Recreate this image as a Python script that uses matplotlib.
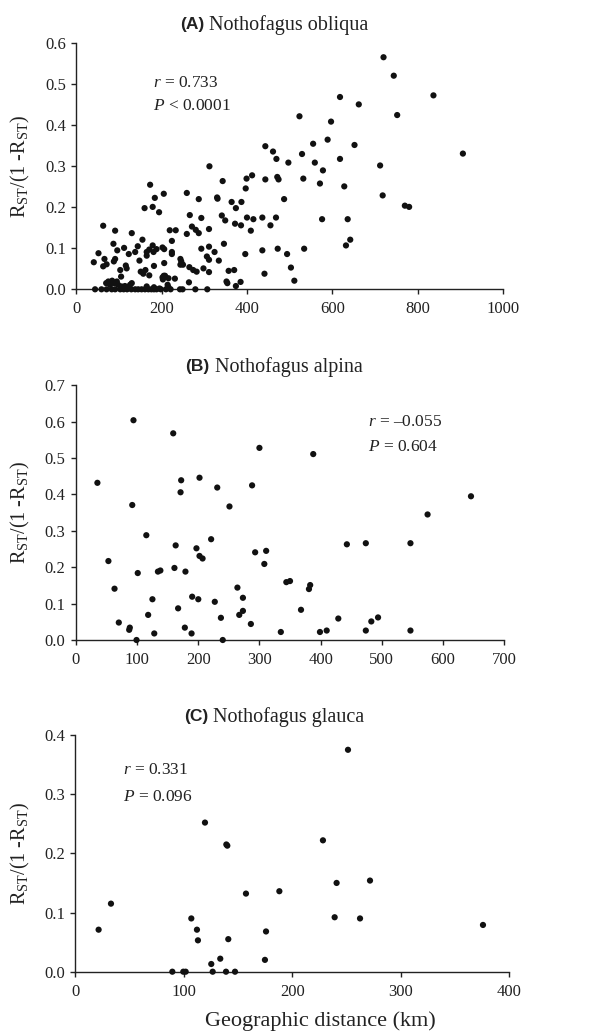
import numpy as np
import matplotlib
matplotlib.use("Agg")
import matplotlib.pyplot as plt

plt.rcParams['font.family'] = 'Liberation Serif'
plt.rcParams['mathtext.fontset'] = 'custom'
plt.rcParams['mathtext.rm'] = 'Liberation Serif'
plt.rcParams['mathtext.it'] = 'Liberation Serif:italic'

# (A) Nothofagus obliqua: distance (km), Rst/(1-Rst)
obliqua_x = [720, 744, 837, 752, 618, 662, 523, 597, 443, 461, 555, 589, 652, 529, 906, 469, 618,
             497, 559, 712, 312, 343, 399, 412, 443, 471, 474, 532, 578, 571, 628,
             173, 205, 259, 179, 160, 184, 194, 266, 271, 280, 287, 293, 287, 330, 331, 341, 349,
             364, 374, 372, 387, 397, 400, 386, 409, 415, 436, 455, 468, 487, 576,
             718, 770, 780, 636, 632, 642, 534, 472, 436, 396, 494, 503, 511, 441,
             219, 233, 224, 224, 224, 259, 264, 265, 244, 246, 244, 250, 293, 298, 306, 311, 311,
             311, 311, 324, 334, 346, 352, 354, 357, 370, 374, 385, 274, 282, 231, 214, 216, 216,
             206, 202, 206, 205, 203, 188, 179, 181, 182, 171, 165, 165, 162, 155, 144, 148, 151,
             157, 171, 130, 138, 123, 116, 118, 112, 103, 105, 96, 91, 87, 91, 88, 63, 52, 66, 63,
             71, 41, 130, 202, 208,
             44, 59, 71, 83, 91, 103, 111, 119, 129, 138, 145, 153, 161, 169, 176, 182, 188, 198,
             210, 221, 243, 249, 279, 307,
             70, 75, 79, 84, 89, 95, 98, 106, 114, 126, 165, 182, 195]
obliqua_y = [0.566, 0.521, 0.473, 0.425, 0.469, 0.451, 0.422, 0.409, 0.349, 0.336, 0.355, 0.365,
             0.352, 0.330, 0.331, 0.318, 0.318,
             0.309, 0.309, 0.302, 0.300, 0.264, 0.270, 0.278, 0.268, 0.274, 0.268, 0.270, 0.290,
             0.258, 0.251,
             0.255, 0.233, 0.235, 0.201, 0.198, 0.223, 0.188, 0.181, 0.153, 0.145, 0.137, 0.174,
             0.220, 0.224, 0.221, 0.180, 0.168, 0.213, 0.198, 0.160, 0.213, 0.246, 0.175, 0.156,
             0.143, 0.171, 0.175, 0.156, 0.175, 0.220, 0.171,
             0.229, 0.204, 0.201, 0.171, 0.107, 0.121, 0.099, 0.099, 0.095, 0.086, 0.086, 0.053,
             0.021, 0.038,
             0.144, 0.144, 0.118, 0.091, 0.086, 0.135, 0.017, 0.054, 0.074, 0.068, 0.060, 0.060,
             0.099, 0.051, 0.080, 0.072, 0.042,
             0.147, 0.104, 0.091, 0.070, 0.111, 0.019, 0.015, 0.045, 0.047, 0.008, 0.018, 0.047,
             0.043, 0.026, 0.011, 0.005, 0.027,
             0.098, 0.102, 0.064, 0.033, 0.024, 0.098, 0.107, 0.091, 0.057, 0.097, 0.091, 0.082,
             0.047, 0.121, 0.105, 0.070, 0.043,
             0.038, 0.034, 0.137, 0.091, 0.086, 0.058, 0.051, 0.101, 0.047, 0.031, 0.095, 0.143,
             0.111, 0.074, 0.068, 0.155, 0.088, 0.074, 0.056,
             0.061, 0.066, 0.015, 0.029, 0.033,
             0, 0, 0, 0, 0, 0, 0, 0, 0, 0, 0, 0, 0, 0, 0, 0, 0, 0, 0, 0, 0, 0, 0, 0,
             0.015, 0.019, 0.011, 0.021, 0.015, 0.019, 0.011, 0.007, 0.008, 0.011, 0.007, 0.005,
             0.002]

# (B) Nothofagus alpina
alpina_x = [94, 159, 300, 388, 35, 172, 202, 231, 288, 171, 92, 251, 646, 575, 115, 221, 163,
            197, 202, 207, 293, 311, 308, 443, 474, 547, 53, 101, 161, 134, 138, 179, 63, 344,
            350, 381, 383, 264, 273, 125, 190, 200, 227, 167, 368, 118, 267, 273, 237, 70, 286,
            429, 483, 494, 87, 88, 178, 128, 189, 335, 399, 410, 474, 547, 99, 240]
alpina_y = [0.604, 0.568, 0.528, 0.511, 0.432, 0.439, 0.446, 0.419, 0.425, 0.406, 0.371, 0.367,
            0.395, 0.345, 0.288, 0.277, 0.260, 0.252, 0.231, 0.224, 0.241, 0.245, 0.209, 0.263,
            0.266, 0.266, 0.217, 0.184, 0.198, 0.188, 0.191, 0.188, 0.141, 0.159, 0.162, 0.140,
            0.151, 0.144, 0.116, 0.112, 0.119, 0.112, 0.105, 0.087, 0.083, 0.069, 0.069, 0.080,
            0.061, 0.048, 0.044, 0.059, 0.051, 0.062, 0.028, 0.034, 0.034, 0.018, 0.018, 0.022,
            0.022, 0.026, 0.026, 0.026, 0.0, 0.0]

# (C) Nothofagus glauca
glauca_x = [251.5, 119.6, 139.3, 140.2, 228.4, 241, 271.8, 157.4, 188.2, 32.9, 21.5, 107, 112.2,
            113.1, 141.1, 175.9, 239.2, 262.6, 376, 125.4, 133.7, 174.9, 89.5, 99.6, 101.8,
            126.7, 139, 147.3]
glauca_y = [0.375, 0.252, 0.215, 0.213, 0.222, 0.150, 0.154, 0.132, 0.136, 0.115, 0.071, 0.090,
            0.071, 0.053, 0.055, 0.068, 0.092, 0.090, 0.079, 0.013, 0.022, 0.020, 0, 0, 0, 0, 0, 0]

W, H = 615, 1033
INK = '#222222'
fig = plt.figure(figsize=(W / 100, H / 100), dpi=100)
renderer = fig.canvas.get_renderer()


def make_axes(left, right, top, bottom):
    return fig.add_axes([left / W, 1 - bottom / H, (right - left) / W, (bottom - top) / H])


def panel_title(tag, name, cx, cy):
    # bold sans tag followed by a serif name, centred as one line
    a = fig.text(0, cy, tag, fontsize=12.5, fontweight='bold', family='Liberation Sans',
                 ha='left', va='center', color=INK)
    b = fig.text(0, cy, name, fontsize=14.5, ha='left', va='center', color=INK)
    wa = a.get_window_extent(renderer).width
    wb = b.get_window_extent(renderer).width
    gap = 5
    x0 = cx - (wa + gap + wb) / 2
    a.set_x(x0 / W)
    b.set_x((x0 + wa + gap) / W)


panels = [
    dict(box=(76.3, 503, 43.3, 289.3), x=obliqua_x, y=obliqua_y, xlim=1000, xstep=200,
         ylim=0.6, title='Nothofagus obliqua', tag='(A)', ty=25,
         r='0.733', p=r'$P$ < 0.0001', txy=(180, 0.502, 0.447)),
    dict(box=(76, 504, 385.3, 640), x=alpina_x, y=alpina_y, xlim=700, xstep=100,
         ylim=0.7, title='Nothofagus alpina', tag='(B)', ty=367,
         r='\u20130.055', p=r'$P$ = 0.604', txy=(478, 0.599, 0.531)),
    dict(box=(75.3, 509, 735, 971.7), x=glauca_x, y=glauca_y, xlim=400, xstep=100,
         ylim=0.4, title='Nothofagus glauca', tag='(C)', ty=717,
         r='0.331', p=r'$P$ = 0.096', txy=(44, 0.341, 0.295)),
]

for pn in panels:
    ax = make_axes(*pn['box'])
    ax.scatter(pn['x'], pn['y'], s=20, color='#111111', edgecolors='none', clip_on=False, zorder=3)
    ax.set_xlim(0, pn['xlim'])
    ax.set_ylim(0, pn['ylim'])
    ax.set_xticks(np.arange(0, pn['xlim'] + 1, pn['xstep']))
    ax.set_yticks(np.arange(0, pn['ylim'] + 0.001, 0.1))
    ax.yaxis.set_major_formatter(matplotlib.ticker.FormatStrFormatter('%.1f'))
    for s in ['top', 'right']:
        ax.spines[s].set_visible(False)
    for s in ['left', 'bottom']:
        ax.spines[s].set_linewidth(1.0)
        ax.spines[s].set_color(INK)
    ax.tick_params(direction='out', length=3.5, width=1.0, color=INK,
                   labelsize=12, labelcolor=INK)
    ax.tick_params(axis='x', pad=5)
    ax.tick_params(axis='y', pad=4)

    top, bottom = pn['box'][2], pn['box'][3]
    fig.text(20 / W, 1 - (top + bottom) / 2 / H,
             r'R$_{\mathrm{ST}}$/(1 -R$_{\mathrm{ST}}$)', fontsize=14.5, rotation=90,
             ha='center', va='center', color=INK)

    tx, ry, py = pn['txy']
    ax.text(tx, ry, r'$r$ = ' + pn['r'], fontsize=12.5, va='center', color=INK)
    ax.text(tx, py, pn['p'], fontsize=12.5, va='center', color=INK)

    panel_title(pn['tag'], pn['title'], 274, 1 - pn['ty'] / H)

fig.text(320 / W, 1 - 1021 / H, 'Geographic distance (km)', fontsize=16, ha='center',
         va='center', color=INK)

fig.savefig('out.png', dpi=100)
